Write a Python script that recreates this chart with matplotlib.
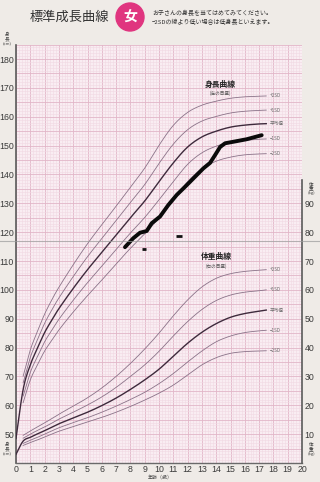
import matplotlib
matplotlib.use('Agg')
import matplotlib.pyplot as plt
from matplotlib.patches import Circle
from matplotlib.lines import Line2D
import numpy as np

plt.rcParams['font.family'] = ['Noto Sans CJK JP', 'DejaVu Sans']

# ---------------- data ----------------
sd_ages = [0.5, 1, 1.5, 2, 2.5, 3, 4, 5, 6, 7, 8, 9, 10, 11, 12, 13, 14, 15, 16, 17, 17.5]
mean_ages = [0] + sd_ages

height_p2 = [70.1, 79.2, 85.6, 91.6, 96.5, 100.9, 108.7, 116.0, 122.6, 129.0, 135.6, 142.2, 150.1, 157.0, 161.5, 164.0, 165.4, 166.4, 166.9, 167.1, 167.2]
height_p1 = [67.8, 76.6, 82.7, 88.4, 93.0, 97.2, 104.6, 111.5, 117.8, 124.0, 130.3, 136.5, 143.8, 150.5, 155.5, 158.5, 160.1, 161.3, 161.9, 162.2, 162.3]
height_mean = [48.5, 65.5, 74.0, 79.8, 85.2, 89.5, 93.5, 100.5, 107.0, 113.0, 119.0, 125.0, 130.8, 137.5, 144.0, 149.5, 153.0, 155.0, 156.4, 157.1, 157.5, 157.6]
height_m1 = [63.2, 71.4, 76.9, 82.0, 86.0, 89.8, 96.4, 102.5, 108.2, 114.0, 119.7, 125.1, 131.2, 137.5, 143.5, 147.5, 149.8, 151.2, 151.8, 152.2, 152.3]
height_m2 = [60.9, 68.8, 74.0, 78.8, 82.5, 86.1, 92.3, 98.0, 103.4, 109.0, 114.4, 119.4, 124.9, 131.0, 137.5, 142.0, 144.6, 146.0, 146.8, 147.1, 147.2]

weight_p2 = [9.6, 11.1, 12.5, 13.9, 15.4, 16.9, 19.7, 22.6, 26.0, 30.0, 34.5, 39.5, 45.0, 51.0, 56.5, 61.0, 64.0, 65.6, 66.4, 66.8, 67.0]
weight_p1 = [8.6, 10.0, 11.3, 12.5, 13.8, 15.2, 17.6, 20.1, 22.9, 26.2, 30.0, 34.0, 38.7, 44.0, 49.0, 53.2, 56.3, 58.2, 59.2, 59.7, 60.0]
weight_mean = [3.0, 7.6, 8.9, 10.1, 11.2, 12.4, 13.6, 15.6, 17.6, 19.9, 22.5, 25.5, 28.8, 32.5, 37.0, 41.5, 45.3, 48.3, 50.5, 51.8, 52.6, 53.0]
weight_m1 = [6.8, 7.9, 8.9, 10.0, 11.1, 12.2, 14.0, 15.7, 17.6, 19.7, 22.0, 24.5, 27.5, 31.0, 35.0, 38.8, 42.0, 44.0, 45.2, 45.8, 46.0]
weight_m2 = [6.1, 7.1, 8.0, 9.0, 10.0, 11.0, 12.6, 14.2, 15.8, 17.6, 19.6, 21.8, 24.2, 27.0, 30.5, 34.0, 36.5, 38.0, 38.6, 38.8, 38.9]

curve_labels = ['+2SD', '+1SD', '平均値', '\u22121SD', '\u22122SD']

child_ages = [7.62, 8.20, 8.67, 9.14, 9.49, 10.07, 10.65, 11.24, 11.94, 12.64, 13.10, 13.57, 13.92, 14.27, 14.62, 15.17, 16.13, 17.18]
child_heights = [114.8, 117.9, 119.8, 120.4, 123.1, 125.4, 129.4, 132.9, 136.3, 139.8, 142.1, 144.0, 146.7, 149.5, 150.8, 151.3, 152.2, 153.6]

mark_ages = [8.97, 11.42]
mark_heights = [114.2, 118.7]

height_ticks = [50, 60, 70, 80, 90, 100, 110, 120, 130, 140, 150, 160, 170, 180]
weight_ticks = [10, 20, 30, 40, 50, 60, 70, 80, 90]
age_ticks = list(range(0, 21))


def smooth(xs, ys, n=12):
    xs = np.asarray(xs, float)
    ys = np.asarray(ys, float)
    px = np.concatenate([[2 * xs[0] - xs[1]], xs, [2 * xs[-1] - xs[-2]]])
    py = np.concatenate([[2 * ys[0] - ys[1]], ys, [2 * ys[-1] - ys[-2]]])
    ox, oy = [], []
    for i in range(1, len(px) - 2):
        t = np.linspace(0, 1, n, endpoint=False)
        for arr, out in ((px, ox), (py, oy)):
            p0, p1, p2, p3 = arr[i - 1], arr[i], arr[i + 1], arr[i + 2]
            out.extend(0.5 * (2 * p1 + (-p0 + p2) * t + (2 * p0 - 5 * p1 + 4 * p2 - p3) * t ** 2
                              + (-p0 + 3 * p1 - 3 * p2 + p3) * t ** 3))
    ox.append(xs[-1]); oy.append(ys[-1])
    return np.array(ox), np.array(oy)


W, H = 320, 482
fig = plt.figure(figsize=(W / 100, H / 100), dpi=100)
fig.patch.set_facecolor('#efebe7')

x0, x1 = 16, 302
y_top, y_bot = 44.6, 463.0
ax = fig.add_axes([x0 / W, 1 - y_bot / H, (x1 - x0) / W, (y_bot - y_top) / H])
ax.set_facecolor('#f9edf2')
ax.set_xlim(0, 20)
ax.set_ylim(40, 185)

# grid
for v in np.arange(0, 20.01, 0.2):
    major = abs(v - round(v)) < 1e-6
    ax.axvline(v, color='#e2b6c8' if major else '#f1d9e3', lw=0.6 if major else 0.4, zorder=0)
for v in range(40, 186):
    major = v % 5 == 0
    ax.axhline(v, color='#e2b6c8' if major else '#f1d9e3', lw=0.6 if major else 0.4, zorder=0)

thin = '#8a7288'
dark = '#3e2a3c'
h_curves = [height_p2, height_p1, height_mean, height_m1, height_m2]
w_curves = [weight_p2, weight_p1, weight_mean, weight_m1, weight_m2]
for curves, offset in ((h_curves, 0), (w_curves, 40)):
    for i, c in enumerate(curves):
        ages = mean_ages if i == 2 else sd_ages
        sx, sy = smooth(ages, c)
        ax.plot(sx, sy + offset, color=dark if i == 2 else thin, lw=1.0 if i == 2 else 0.6, zorder=3)
        ax.text(17.72, c[-1] + offset, curve_labels[i], fontsize=3.3, color='#6a6a6a',
                va='center', ha='left', zorder=4)

ax.plot(child_ages, child_heights, color='#0a0a0a', lw=2.8, solid_joinstyle='round',
        solid_capstyle='round', zorder=5)
ax.plot(mark_ages[:1], mark_heights[:1], marker='_', ms=3, mew=2, color='#111', ls='none', zorder=5)
ax.plot(mark_ages[1:], mark_heights[1:], marker='_', ms=5, mew=2, color='#111', ls='none', zorder=5)

ax.text(14.3, 171.2, '身長曲線', fontsize=5.6, fontweight='bold', color='#222', ha='center', va='center')
ax.text(14.3, 168.0, '(左の目盛)', fontsize=3.3, color='#555', ha='center', va='center')
ax.text(14.0, 111.4, '体重曲線', fontsize=5.6, fontweight='bold', color='#222', ha='center', va='center')
ax.text(14.0, 108.3, '(右の目盛)', fontsize=3.3, color='#555', ha='center', va='center')

ax.set_xticks(age_ticks)
ax.set_yticks(height_ticks)
ax.tick_params(length=0, labelsize=6.3, colors='#3a3a3a', pad=1.5)
for s in ('top', 'right'):
    ax.spines[s].set_visible(False)
ax.spines['left'].set_color('#5a5a5a')
ax.spines['left'].set_linewidth(1.2)
ax.spines['bottom'].set_color('#6a6a6a')
ax.spines['bottom'].set_linewidth(1.0)

ax2 = ax.twinx()
ax2.set_ylim(0, 145)
ax2.set_yticks(weight_ticks)
ax2.tick_params(length=0, labelsize=6.3, colors='#3a3a3a', pad=2)
for s in ('top', 'left', 'bottom'):
    ax2.spines[s].set_visible(False)
ax2.spines['right'].set_bounds(0, 98)
ax2.spines['right'].set_color('#5a5a5a')
ax2.spines['right'].set_linewidth(1.2)
for lab in ax.get_xticklabels() + ax.get_yticklabels() + ax2.get_yticklabels():
    lab.set_family(['Liberation Sans', 'DejaVu Sans'])


def ftext(x, y, s, **kw):
    fig.text(x / W, 1 - y / H, s, **kw)


# title
ftext(69, 17, '標準成長曲線', fontsize=9.5, color='#333', ha='center', va='center')
circ = Circle((1.30, (H - 17) / 100), 0.14, transform=fig.dpi_scale_trans, color='#e0357f', zorder=5)
fig.add_artist(circ)
ftext(130, 17, '女', fontsize=10, color='white', ha='center', va='center', fontweight='bold', zorder=6)
ftext(152, 13, 'お子さんの身長を当てはめてみてください。', fontsize=4.3, color='#333', ha='left', va='center')
ftext(152, 22, '\u22122SDの線より低い場合は低身長といえます。', fontsize=4.3, color='#333', ha='left', va='center')

# axis unit labels
for (x, y) in ((7, 38), (7, 448)):
    ftext(x, y - 3, '身', fontsize=3.3, color='#444', ha='center', va='center')
    ftext(x, y + 1, '長', fontsize=3.3, color='#444', ha='center', va='center')
    ftext(x, y + 6, '(cm)', fontsize=3.0, color='#444', ha='center', va='center')
for (x, y) in ((311, 187), (311, 448)):
    ftext(x, y - 3, '体', fontsize=3.3, color='#444', ha='center', va='center')
    ftext(x, y + 1, '重', fontsize=3.3, color='#444', ha='center', va='center')
    ftext(x, y + 6, '(kg)', fontsize=3.0, color='#444', ha='center', va='center')
ftext(160, 477, '年齢（歳）', fontsize=3.6, color='#444', ha='center', va='center')

# fold line across the paper
fig.add_artist(Line2D([0, 1], [1 - 241 / H, 1 - 241 / H], transform=fig.transFigure,
                      color='#9a9a9a', lw=0.8, alpha=0.7, zorder=10))

fig.savefig('out.png', dpi=100, facecolor=fig.get_facecolor())
